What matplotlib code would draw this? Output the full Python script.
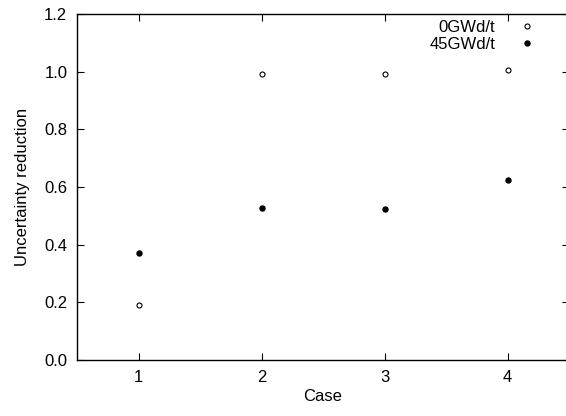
import numpy as np
import matplotlib
matplotlib.use('Agg')
import matplotlib.pyplot as plt

plt.rcParams['font.family'] = ['Liberation Sans', 'DejaVu Sans']

cases = [1, 2, 3, 4]
fresh = [0.19, 0.993, 0.992, 1.005]      # 0GWd/t
burned = [0.371, 0.527, 0.523, 0.624]    # 45GWd/t
labels = ['0GWd/t', '45GWd/t']

fig = plt.figure(figsize=(5.66, 4.16), dpi=100)
# right edge of the frame sits just outside the picture, as in the original
ax = fig.add_axes([77/566, 56/416, 492/566, 346/416])

ax.plot(cases, fresh, linestyle='none', marker='o', markersize=3.6,
        markerfacecolor='none', markeredgecolor='black', markeredgewidth=0.8,
        label=labels[0])
ax.plot(cases, burned, linestyle='none', marker='o', markersize=3.6,
        markerfacecolor='black', markeredgecolor='black', label=labels[1])

ax.set_xlim(0.5, 4.5)
ax.set_ylim(0, 1.2)
ax.set_xticks(cases)
ax.set_yticks(np.arange(0, 1.21, 0.2))
ax.set_yticklabels(['%.1f' % v for v in np.arange(0, 1.21, 0.2)])
ax.tick_params(direction='in', length=5, width=0.8, top=True, right=True,
               labelsize=12, pad=7)
for s in ax.spines.values():
    s.set_linewidth(1.0)

ax.set_xlabel('Case', fontsize=12, labelpad=3)
ax.set_ylabel('Uncertainty reduction', fontsize=12, labelpad=10)

ax.legend(loc='upper right', bbox_to_anchor=(535/566, 1 - 20/416),
          bbox_transform=fig.transFigure, frameon=False, markerfirst=False,
          fontsize=12, handlelength=1.0, handletextpad=1.4, labelspacing=0.12,
          borderpad=0, borderaxespad=0)

fig.savefig('out.png', dpi=100)
